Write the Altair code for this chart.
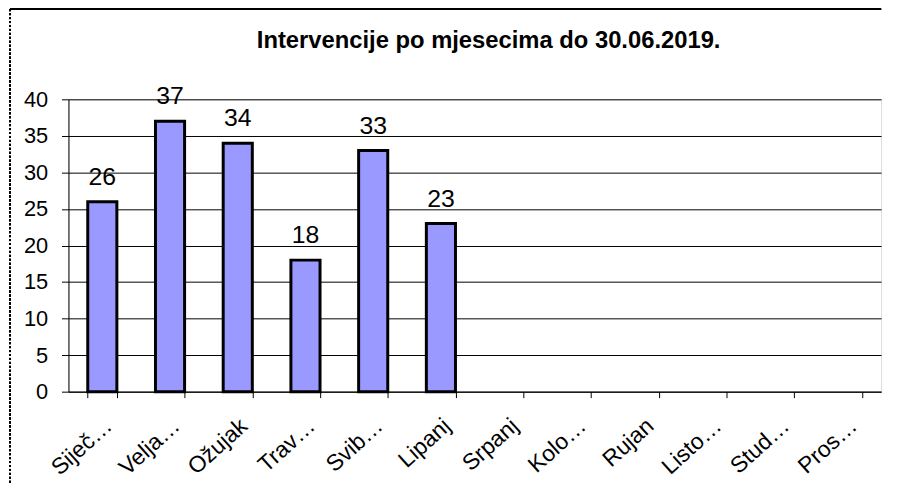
import altair as alt
import pandas as pd

months = ["Siječ…", "Velja…", "Ožujak", "Trav…", "Svib…", "Lipanj",
          "Srpanj", "Kolo…", "Rujan", "Listo…", "Stud…", "Pros…"]
values = [26, 37, 34, 18, 33, 23, None, None, None, None, None, None]
y_ticks = [0, 5, 10, 15, 20, 25, 30, 35, 40]
title_text = "Intervencije po mjesecima do 30.06.2019."

df = pd.DataFrame({"month": months, "value": values})

FONT = "Liberation Sans"
W, H = 820, 295

x = alt.X("month:N", sort=months, title=None,
          scale=alt.Scale(paddingInner=0.57, paddingOuter=0.285),
          axis=alt.Axis(labelAngle=-42, labelAlign="right", labelBaseline="middle",
                        labelFont=FONT, labelFontSize=23, labelColor="black",
                        labelPadding=25, labelOffset=6,
                        tickSize=6, tickColor="black",
                        domainColor="black", tickBand="extent", labelOverlap=False,
                        labelLimit=0, grid=False))
y = alt.Y("value:Q", title=None,
          scale=alt.Scale(domain=[0, 40], nice=False),
          axis=alt.Axis(values=y_ticks, labelOverlap=False,
                        labelFont=FONT, labelFontSize=22, labelColor="black",
                        labelPadding=14, tickSize=7, tickColor="black",
                        domainColor="black", gridColor="black", gridOpacity=1))

bars = alt.Chart(df).mark_bar(color="#9999FF", stroke="black", strokeWidth=3).encode(
    x=x, y=y)

labels = alt.Chart(df).transform_filter("datum.value != null").mark_text(
    font=FONT, fontSize=25, color="black", baseline="alphabetic", dy=-17).encode(
    x=x, y=y, text="value:Q")

top_border = alt.Chart(df).mark_rule(color="black", strokeWidth=1).encode(
    x=alt.value(-59), x2=alt.value(820), y=alt.value(-91))
left_border = alt.Chart(df).mark_rule(color="black", strokeWidth=1, strokeDash=[2, 2]).encode(
    x=alt.value(-59), y=alt.value(-91), y2=alt.value(395))

chart = alt.layer(bars, labels, top_border, left_border).properties(
    width=W, height=H,
    title=alt.TitleParams(title_text, font=FONT, fontSize=24, fontWeight="bold",
                          color="black", anchor="middle", dx=14, offset=0, dy=45),
    autosize=alt.AutoSizeParams(type="none"),
    padding={"left": 61, "top": 90, "right": 10, "bottom": 90},
).configure_view(stroke=None).configure(background="white")

chart.save("out.html", embed_options={"renderer": "svg", "actions": False})
